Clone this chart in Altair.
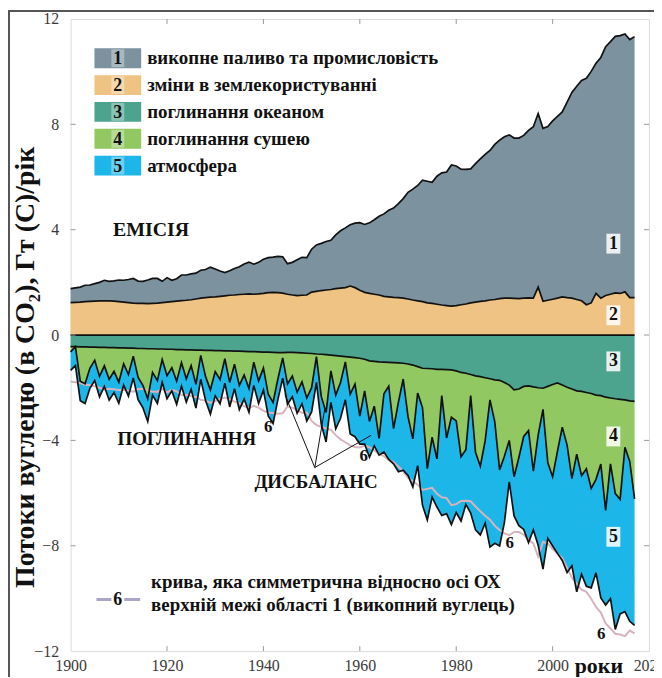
import altair as alt
import pandas as pd

years = list(range(1900, 2018))

# fossil fuel & industry, GtC/yr
fossil = [0.53,0.55,0.57,0.62,0.62,0.66,0.70,0.78,0.74,0.77,
          0.82,0.83,0.88,0.94,0.85,0.84,0.90,0.95,0.94,0.81,
          0.93,0.81,0.85,0.97,0.96,0.98,0.98,1.06,1.07,1.14,
          1.06,0.96,0.88,0.93,1.01,1.05,1.15,1.21,1.14,1.20,
          1.30,1.33,1.34,1.38,1.38,1.16,1.24,1.36,1.44,1.42,
          1.63,1.76,1.79,1.84,1.87,2.04,2.18,2.27,2.33,2.45,
          2.57,2.58,2.68,2.83,2.99,3.13,3.29,3.39,3.57,3.78,
          4.05,4.21,4.38,4.61,4.62,4.60,4.86,5.02,5.07,5.36,
          5.30,5.15,5.11,5.09,5.26,5.41,5.56,5.68,5.89,6.02,
          6.13,6.20,6.09,6.10,6.18,6.36,6.51,6.59,6.57,6.60,
          6.77,6.90,7.02,7.42,7.81,8.10,8.37,8.60,8.79,8.74,
          9.14,9.45,9.59,9.74,9.79,9.79,9.80,9.91]

# land-use change emissions
luc = [1.23,1.24,1.25,1.27,1.28,1.29,1.30,1.30,1.30,1.29,
       1.27,1.25,1.23,1.21,1.20,1.20,1.19,1.20,1.21,1.23,
       1.25,1.27,1.29,1.31,1.32,1.34,1.37,1.40,1.42,1.44,
       1.45,1.47,1.49,1.51,1.52,1.54,1.55,1.56,1.55,1.56,
       1.58,1.61,1.62,1.61,1.59,1.55,1.52,1.50,1.51,1.52,
       1.63,1.66,1.69,1.71,1.73,1.76,1.78,1.80,1.86,1.80,
       1.70,1.62,1.58,1.55,1.52,1.47,1.45,1.43,1.42,1.40,
       1.37,1.33,1.30,1.27,1.22,1.20,1.17,1.14,1.12,1.10,
       1.12,1.15,1.18,1.22,1.25,1.28,1.30,1.33,1.35,1.38,
       1.40,1.40,1.39,1.38,1.40,1.41,1.40,1.82,1.28,1.32,
       1.36,1.40,1.45,1.42,1.40,1.35,1.30,1.15,1.22,1.58,
       1.40,1.50,1.55,1.60,1.58,1.64,1.42,1.42]

# ocean sink (magnitude)
ocean = [0.44,0.44,0.45,0.45,0.46,0.46,0.47,0.47,0.48,0.48,
         0.49,0.49,0.50,0.50,0.51,0.51,0.52,0.52,0.53,0.53,
         0.54,0.54,0.55,0.55,0.56,0.56,0.57,0.57,0.58,0.58,
         0.59,0.59,0.60,0.60,0.61,0.61,0.62,0.63,0.63,0.64,
         0.65,0.65,0.66,0.67,0.67,0.66,0.66,0.67,0.68,0.69,
         0.70,0.72,0.73,0.74,0.76,0.78,0.80,0.82,0.84,0.86,
         0.88,0.92,0.98,1.00,1.02,1.03,1.04,1.05,1.06,1.07,
         1.10,1.14,1.20,1.26,1.27,1.28,1.30,1.30,1.31,1.32,
         1.36,1.42,1.45,1.50,1.55,1.58,1.62,1.66,1.70,1.72,
         1.80,1.90,2.08,2.05,1.95,1.93,1.97,2.00,2.02,1.95,
         1.88,1.82,1.90,1.98,2.05,2.12,2.14,2.18,2.22,2.28,
         2.30,2.36,2.39,2.42,2.44,2.46,2.50,2.52]

# land sink (magnitude)
land = [0.20,0.00,1.30,1.40,0.80,0.50,1.10,0.70,1.20,0.90,
        1.30,0.60,1.00,0.30,1.10,1.40,1.90,0.90,1.20,0.40,
        1.00,0.70,1.20,0.50,1.10,0.60,1.30,0.20,1.00,1.50,
        0.80,1.10,0.30,1.20,0.50,1.30,0.90,1.40,0.40,1.10,
        0.60,1.60,1.90,1.00,0.20,1.20,0.90,1.50,1.10,1.70,
        1.30,0.10,1.60,2.20,0.60,1.50,1.00,0.20,1.40,1.00,
        2.20,1.20,2.30,1.70,2.90,1.20,0.90,2.50,1.50,0.60,
        2.00,2.80,1.00,1.50,3.80,2.60,3.40,1.00,2.60,1.80,
        1.90,3.20,2.90,0.80,2.90,3.40,2.40,0.80,1.60,3.40,
        2.80,2.10,3.30,2.60,1.90,1.70,3.20,1.80,0.80,2.90,
        3.50,2.60,1.60,2.20,3.40,2.40,3.20,2.90,3.60,3.20,
        2.60,4.30,2.50,3.60,3.80,1.80,2.30,3.70]

# atmospheric growth
atm = [0.70,0.72,0.74,0.75,0.76,0.77,0.78,0.78,0.79,0.80,
       0.80,0.81,0.82,0.83,0.84,0.85,0.86,0.86,0.87,0.87,
       0.88,0.88,0.88,0.89,0.89,0.90,0.90,0.91,0.91,0.92,
       0.92,0.92,0.93,0.93,0.93,0.92,0.91,0.90,0.88,0.86,
       0.84,0.82,0.80,0.78,0.77,0.77,0.78,0.80,0.83,0.87,
       0.92,0.98,1.05,1.12,1.20,1.28,1.36,1.44,1.52,2.00,
       1.06,2.02,1.36,1.51,0.64,2.21,2.78,1.34,2.63,3.46,
       2.23,1.83,2.76,3.70,1.95,2.27,1.83,4.55,2.87,4.08,
       3.48,2.44,2.08,4.46,2.95,2.61,3.12,5.59,4.61,2.89,
       2.51,1.57,1.49,2.59,3.53,4.25,2.23,4.18,6.07,2.87,
       2.63,3.87,5.06,4.84,3.31,5.23,3.74,4.46,3.78,3.55,
       5.08,3.59,5.12,5.16,4.35,6.24,6.07,4.80]

for arr in (fossil, luc, ocean, land, atm):
    assert len(arr) == len(years), len(arr)

legend_nums = ["1", "2", "3", "4", "5"]
legend_labels = ["викопне паливо та промисловість", "зміни в землекористуванні",
                 "поглинання океаном", "поглинання сушею", "атмосфера"]
band_colors = ["#7C929F", "#EEC384", "#4DA48E", "#92C862", "#1DB6E9"]
legend6_lines = ["крива, яка симметрична відносно осі ОХ",
                 "верхній межі області 1 (викопний вуглець)"]
x_ticks = [1900, 1920, 1940, 1960, 1980, 2000, 2020]
y_ticks = [-12, -8, -4, 0, 4, 8, 12]

# ---------------- derived tables ----------------
df = pd.DataFrame({"year": years, "fossil": fossil, "luc": luc,
                   "ocean": ocean, "land": land, "atm": atm})
df["top"] = df["luc"] + df["fossil"]
df["b_ocean"] = -df["ocean"]
df["b_land"] = -(df["ocean"] + df["land"])
df["b_atm"] = -(df["ocean"] + df["land"] + df["atm"])
df["zero"] = 0.0
df["c6"] = -df["top"]

band_defs = [("1", "top", "luc"), ("2", "luc", "zero"), ("3", "zero", "b_ocean"),
             ("4", "b_ocean", "b_land"), ("5", "b_land", "b_atm")]
rows = []
for name, hi, lo in band_defs:
    for _, r in df.iterrows():
        rows.append({"year": r["year"], "band": name, "hi": r[hi], "lo": r[lo]})
bands = pd.DataFrame(rows)

edge_rows = []
for e in ["top", "luc", "zero", "b_ocean", "b_land", "b_atm"]:
    for _, r in df.iterrows():
        edge_rows.append({"year": r["year"], "edge": e, "v": r[e]})
edges = pd.DataFrame(edge_rows)

W, H = 582, 636
SERIF = "Liberation Serif"
xs = alt.Scale(domain=[1900, 2020], nice=False, zero=False)
ys = alt.Scale(domain=[-12, 12], nice=False)

x_axis = alt.Axis(values=x_ticks, grid=False, ticks=False, domain=False,
                  labelFont=SERIF, labelFontSize=16, labelColor="#3a3a3a",
                  labelPadding=7, labelFlush=False, labelOverlap=False, format="d",
                  title="роки", titleFont=SERIF, titleFontSize=22, titleFontWeight="bold",
                  titleColor="#111", titleX=531, titleY=15, titleAlign="center",
                  titleBaseline="middle")
y_axis = alt.Axis(values=y_ticks, grid=False, ticks=False, domain=False,
                  labelFont=SERIF, labelFontSize=16, labelColor="#3a3a3a",
                  labelPadding=12, labelFlush=False, labelOverlap=False,
                  title="Потоки вуглецю (в CO₂), Гт (С)/рік", titleFont=SERIF,
                  titleFontSize=28, titleFontWeight="bold", titleColor="#111",
                  titleX=-45, titleY=350, titleAngle=-90, titleAlign="center",
                  titleBaseline="middle")


def X(field):
    return alt.X(field, scale=xs, axis=x_axis)


def Y(field):
    return alt.Y(field, scale=ys, axis=y_axis)


areas = alt.Chart(bands).mark_area(interpolate="linear").encode(
    x=X("year:Q"),
    y=alt.Y("hi:Q", scale=ys, axis=y_axis, stack=None),
    y2="lo:Q",
    color=alt.Color("band:N", scale=alt.Scale(domain=legend_nums, range=band_colors),
                    legend=None),
)

curve6 = alt.Chart(df).mark_line(color="#D7B3BC", strokeWidth=2).encode(
    x=X("year:Q"), y=Y("c6:Q"))

lines = alt.Chart(edges).mark_line(color="#111", strokeWidth=1.7).encode(
    x=X("year:Q"), y=Y("v:Q"), detail="edge:N")

# inward ticks
tx = pd.DataFrame({"year": x_ticks[1:-1]})
ty = pd.DataFrame({"v": y_ticks[1:-1]})
tick_col = "#9a9a9a"
xt_b = alt.Chart(tx).mark_rule(color=tick_col).encode(
    x=X("year:Q"), y=alt.value(H), y2=alt.value(H - 5))
xt_t = alt.Chart(tx).mark_rule(color=tick_col).encode(
    x=X("year:Q"), y=alt.value(0), y2=alt.value(5))
yt_l = alt.Chart(ty).mark_rule(color=tick_col).encode(
    y=Y("v:Q"), x=alt.value(0), x2=alt.value(5))
yt_r = alt.Chart(ty).mark_rule(color=tick_col).encode(
    y=Y("v:Q"), x=alt.value(W - 5), x2=alt.value(W))

# annotations in data coordinates
big_txt = pd.DataFrame({"year": [1916.7, 1924.1, 1950.9], "v": [4.0, -3.96, -5.58],
                        "t": ["ЕМІСІЯ", "ПОГЛИНАННЯ", "ДИСБАЛАНС"],
                        "fs": [20, 19, 19]})
big = alt.Chart(big_txt).mark_text(font=SERIF, fontWeight="bold", color="#111").encode(
    x=X("year:Q"), y=Y("v:Q"), text="t:N",
    size=alt.Size("fs:Q", scale=None, legend=None))

six_txt = pd.DataFrame({"year": [1941.0, 1960.8, 1991.1, 2010.1],
                        "v": [-3.5, -4.6, -7.9, -11.36], "t": ["6", "6", "6", "6"]})
six = alt.Chart(six_txt).mark_text(font=SERIF, fontSize=17, fontWeight="bold",
                                   color="#111").encode(
    x=X("year:Q"), y=Y("v:Q"), text="t:N")

num_txt = pd.DataFrame({"year": [2012.6] * 5, "v": [3.47, 0.75, -1.0, -3.85, -7.66],
                        "t": legend_nums})
num_bg = alt.Chart(num_txt).mark_rect(width=14, height=20, color="white", opacity=0.85).encode(
    x=X("year:Q"), y=Y("v:Q"))
num = alt.Chart(num_txt).mark_text(font=SERIF, fontSize=18, fontWeight="bold",
                                   color="#111").encode(
    x=X("year:Q"), y=Y("v:Q"), text="t:N")

ptr = pd.DataFrame({"year": [1950.66] * 3, "v": [-5.03] * 3,
                    "year2": [1944.47, 1952.7, 1962.33], "v2": [-2.26, -2.83, -3.81]})
pointers = alt.Chart(ptr).mark_rule(color="#111", strokeWidth=1).encode(
    x=X("year:Q"), y=Y("v:Q"), x2="year2:Q", y2="v2:Q")

# legend (pixel layout, one row per layer)
one = pd.DataFrame({"k": [0]})
legend_layers = []
for i, (n, lab, col) in enumerate(zip(legend_nums, legend_labels, band_colors)):
    py = 39.5 + 27 * i
    legend_layers.append(alt.Chart(one).mark_rect(color=col).encode(
        x=alt.value(24), x2=alt.value(71), y=alt.value(py - 10), y2=alt.value(py + 10)))
    legend_layers.append(alt.Chart(one).mark_rect(color="white", opacity=0.35).encode(
        x=alt.value(41), x2=alt.value(54), y=alt.value(py - 9), y2=alt.value(py + 9)))
    legend_layers.append(alt.Chart(one).mark_text(
        font=SERIF, fontSize=18, fontWeight="bold", color="#111", text=n).encode(
        x=alt.value(47.5), y=alt.value(py + 1)))
    legend_layers.append(alt.Chart(one).mark_text(
        font=SERIF, fontSize=19, fontWeight="bold", color="#111", align="left", text=lab).encode(
        x=alt.value(77), y=alt.value(py)))

legend_layers.append(alt.Chart(one).mark_rule(color="#ACA6C6", strokeWidth=3).encode(
    x=alt.value(26), x2=alt.value(70), y=alt.value(584)))
legend_layers.append(alt.Chart(one).mark_rect(color="white").encode(
    x=alt.value(41), x2=alt.value(54), y=alt.value(575), y2=alt.value(593)))
legend_layers.append(alt.Chart(one).mark_text(
    font=SERIF, fontSize=18, fontWeight="bold", color="#111", text="6").encode(
    x=alt.value(47.5), y=alt.value(585)))
for j, t in enumerate(legend6_lines):
    legend_layers.append(alt.Chart(one).mark_text(
        font=SERIF, fontSize=19, fontWeight="bold", color="#111", align="left", text=t).encode(
        x=alt.value(81), y=alt.value(567 + 23 * j)))

# outer picture border (top and left)
border_t = alt.Chart(one).mark_rule(color="#555", strokeWidth=2).encode(
    x=alt.value(-63), x2=alt.value(W + 10), y=alt.value(-8))
border_l = alt.Chart(one).mark_rule(color="#555", strokeWidth=2).encode(
    x=alt.value(-62), y=alt.value(-9), y2=alt.value(H + 30))

chart = alt.layer(
    areas, curve6, lines, xt_b, xt_t, yt_l, yt_r,
    big, six, pointers, num_bg, num, *legend_layers, border_t, border_l
).properties(
    width=W, height=H,
    autosize=alt.AutoSizeParams(type="none"),
    padding={"left": 63, "top": 9, "right": 5, "bottom": 24},
).configure_view(stroke="#9a9a9a", strokeWidth=1).configure(background="white")

chart.save("out.html", embed_options={"renderer": "svg", "actions": False})
